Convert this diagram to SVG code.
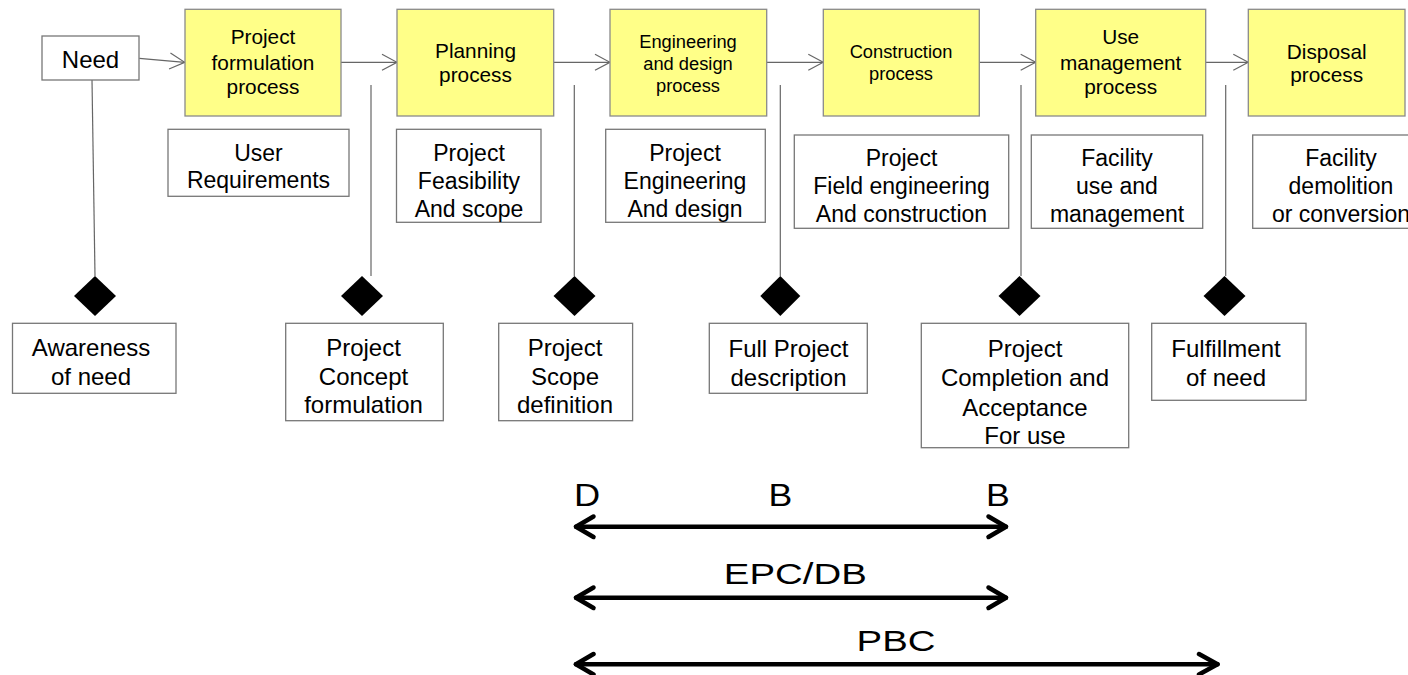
<svg xmlns="http://www.w3.org/2000/svg" width="1408" height="675" viewBox="0 0 1408 675">
<style>
  text { font-family: "Liberation Sans", Arial, sans-serif; fill: #000; text-anchor: middle; }
  .proc { fill: #FFFF88; stroke: #8a8a8a; stroke-width: 1.3; }
  .box { fill: #fff; stroke: #777; stroke-width: 1.3; }
  .conn { stroke: #666; stroke-width: 1.2; fill: none; }
  .dia { fill: #000; }
  .big { stroke: #000; stroke-width: 4.5; fill: none; stroke-linecap: round; stroke-linejoin: round; }
  .t20 { font-size: 20.8px; }
  .t17 { font-size: 18.3px; }
  .t23 { font-size: 23px; }
  .t24 { font-size: 24px; }
</style>
<defs>
  <marker id="open" markerUnits="userSpaceOnUse" viewBox="0 0 17 18" refX="16" refY="9" markerWidth="17" markerHeight="18" orient="auto">
    <path d="M1,1 L16,9 L1,17" fill="none" stroke="#666" stroke-width="1.2"/>
  </marker>
</defs>
<rect width="1408" height="675" fill="#fff"/>

<g id="connectors">
  <path class="conn" d="M139.3,58.3 L184.7,62.3" marker-end="url(#open)"/>
  <path class="conn" d="M341,62.3 H397" marker-end="url(#open)"/>
  <path class="conn" d="M553.7,62.3 H610" marker-end="url(#open)"/>
  <path class="conn" d="M766.7,62.3 H823.3" marker-end="url(#open)"/>
  <path class="conn" d="M979.3,62.3 H1035.7" marker-end="url(#open)"/>
  <path class="conn" d="M1205.7,62.3 H1248.3" marker-end="url(#open)"/>
  <path class="conn" d="M92,80 L95,276"/>
  <path class="conn" d="M371,85 V276"/>
  <path class="conn" d="M574.3,85 V276"/>
  <path class="conn" d="M780.3,85 V276"/>
  <path class="conn" d="M1021,85 V276"/>
  <path class="conn" d="M1225.7,85 V276" stroke="#000"/>
  <path class="big" d="M576,526.7 H1006"/>
  <path class="big" d="M593.5,516.5 L576,526.7 L593.5,537"/>
  <path class="big" d="M988.5,516.5 L1006,526.7 L988.5,537"/>
  <path class="big" d="M576,597.7 H1006"/>
  <path class="big" d="M593.5,587.5 L576,597.7 L593.5,608"/>
  <path class="big" d="M988.5,587.5 L1006,597.7 L988.5,608"/>
  <path class="big" d="M576,664.3 H1217.5"/>
  <path class="big" d="M593.5,654 L576,664.3 L593.5,674.5"/>
  <path class="big" d="M1199,654 L1217.5,664.3 L1199,674.5"/>
</g>

<g id="need">
  <rect class="box" x="42" y="36" width="97" height="44"/>
  <text class="t24" x="90.5" y="68.3">Need</text>
</g>

<g id="proc-formulation">
  <rect class="proc" x="185" y="9.3" width="156" height="106.7"/>
  <text class="t20" x="263"><tspan x="263" y="44.3">Project</tspan><tspan x="263" y="70">formulation</tspan><tspan x="263" y="94.3">process</tspan></text>
</g>
<g id="proc-planning">
  <rect class="proc" x="397" y="9.3" width="156.7" height="106.7"/>
  <text class="t20" x="475.5"><tspan x="475.5" y="58.3">Planning</tspan><tspan x="475.5" y="81.7">process</tspan></text>
</g>
<g id="proc-engineering">
  <rect class="proc" x="610" y="9.3" width="156.7" height="106.7"/>
  <text class="t17" x="688"><tspan x="688" y="47.7">Engineering</tspan><tspan x="688" y="70">and design</tspan><tspan x="688" y="91.7">process</tspan></text>
</g>
<g id="proc-construction">
  <rect class="proc" x="823.3" y="9.3" width="156" height="106.7"/>
  <text class="t17" x="901"><tspan x="901" y="58.3">Construction</tspan><tspan x="901" y="80">process</tspan></text>
</g>
<g id="proc-use">
  <rect class="proc" x="1035.7" y="9.3" width="170" height="106.7"/>
  <text class="t20" x="1120.7"><tspan x="1120.7" y="44.3">Use</tspan><tspan x="1120.7" y="70.3">management</tspan><tspan x="1120.7" y="94.3">process</tspan></text>
</g>
<g id="proc-disposal">
  <rect class="proc" x="1248.3" y="9.3" width="156.7" height="106.7"/>
  <text class="t20" x="1326.7"><tspan x="1326.7" y="59.3">Disposal</tspan><tspan x="1326.7" y="81.7">process</tspan></text>
</g>

<g id="sub-user">
  <rect class="box" x="168" y="129.3" width="181" height="67"/>
  <text class="t23" x="258.5"><tspan x="258.5" y="161">User</tspan><tspan x="258.5" y="188.3">Requirements</tspan></text>
</g>
<g id="sub-feasibility">
  <rect class="box" x="396.5" y="129.3" width="144.5" height="93"/>
  <text class="t23" x="469"><tspan x="469" y="161">Project</tspan><tspan x="469" y="189">Feasibility</tspan><tspan x="469" y="216.7">And scope</tspan></text>
</g>
<g id="sub-engineering">
  <rect class="box" x="605.7" y="129.3" width="159.6" height="93"/>
  <text class="t23" x="685"><tspan x="685" y="161">Project</tspan><tspan x="685" y="189">Engineering</tspan><tspan x="685" y="216.7">And design</tspan></text>
</g>
<g id="sub-field">
  <rect class="box" x="794.3" y="135" width="214.4" height="93.3"/>
  <text class="t23" x="901.5"><tspan x="901.5" y="166">Project</tspan><tspan x="901.5" y="194">Field engineering</tspan><tspan x="901.5" y="221.7">And construction</tspan></text>
</g>
<g id="sub-facility">
  <rect class="box" x="1031.3" y="135" width="171.4" height="93.3"/>
  <text class="t23" x="1117"><tspan x="1117" y="166">Facility</tspan><tspan x="1117" y="194">use and</tspan><tspan x="1117" y="221.7">management</tspan></text>
</g>
<g id="sub-demolition">
  <rect class="box" x="1252.7" y="135" width="178" height="93.3"/>
  <text class="t23" x="1341"><tspan x="1341" y="166">Facility</tspan><tspan x="1341" y="194">demolition</tspan><tspan x="1341" y="221.7">or conversion</tspan></text>
</g>

<g id="m-awareness">
  <polygon class="dia" points="95,276 116,296 95,316 74,296"/>
  <rect class="box" x="12.5" y="323.3" width="163.5" height="70"/>
  <text class="t24" x="91"><tspan x="91" y="355.7">Awareness</tspan><tspan x="91" y="385">of need</tspan></text>
</g>
<g id="m-concept">
  <polygon class="dia" points="362,276 383,296 362,316 341,296"/>
  <rect class="box" x="285.7" y="323.3" width="157.6" height="97.4"/>
  <text class="t24" x="363.5"><tspan x="363.5" y="355.7">Project</tspan><tspan x="363.5" y="385">Concept</tspan><tspan x="363.5" y="413.3">formulation</tspan></text>
</g>
<g id="m-scope">
  <polygon class="dia" points="574.5,276 595.5,296 574.5,316 553.5,296"/>
  <rect class="box" x="498.7" y="323.3" width="133.9" height="97.4"/>
  <text class="t24" x="565"><tspan x="565" y="355.7">Project</tspan><tspan x="565" y="385">Scope</tspan><tspan x="565" y="413.3">definition</tspan></text>
</g>
<g id="m-full">
  <polygon class="dia" points="780.3,276 800.3,296 780.3,316 760.3,296"/>
  <rect class="box" x="709.3" y="323.3" width="158" height="70"/>
  <text class="t24" x="788.5"><tspan x="788.5" y="356.7">Full Project</tspan><tspan x="788.5" y="386">description</tspan></text>
</g>
<g id="m-completion">
  <polygon class="dia" points="1019.5,276 1040.5,296 1019.5,316 998.5,296"/>
  <rect class="box" x="921.3" y="323.3" width="207.4" height="124.4"/>
  <text class="t24" x="1025"><tspan x="1025" y="356.7">Project</tspan><tspan x="1025" y="386">Completion and</tspan><tspan x="1025" y="415.5">Acceptance</tspan><tspan x="1025" y="444">For use</tspan></text>
</g>
<g id="m-fulfillment">
  <polygon class="dia" points="1224.5,276 1245.5,296 1224.5,316 1203.5,296"/>
  <rect class="box" x="1151.7" y="323.3" width="154.3" height="77"/>
  <text class="t24" x="1226"><tspan x="1226" y="356.7">Fulfillment</tspan><tspan x="1226" y="386">of need</tspan></text>
</g>

<g id="contract-labels">
  <text style="font-size:31px" transform="translate(587,505.5) scale(1.17,1)">D</text>
  <text style="font-size:31px" transform="translate(780.3,505.5) scale(1.15,1)">B</text>
  <text style="font-size:31px" transform="translate(998,505.5) scale(1.15,1)">B</text>
  <text style="font-size:30px" transform="translate(795.3,583.5) scale(1.28,1)">EPC/DB</text>
  <text style="font-size:30px" transform="translate(896,650.5) scale(1.28,1)">PBC</text>
</g>
</svg>
